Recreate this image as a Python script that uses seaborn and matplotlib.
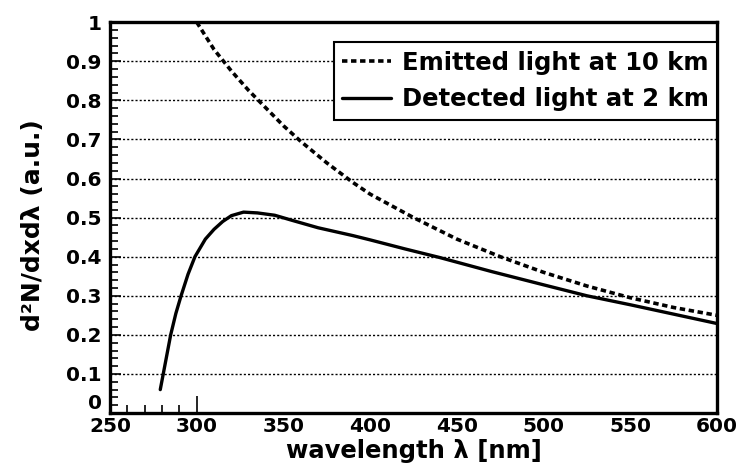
import pandas as pd
import numpy as np
import seaborn as sns
import matplotlib.pyplot as plt
from matplotlib.ticker import FixedLocator, FuncFormatter

# emitted light at 10 km (dashed)
emit_wl = [300, 310, 320, 330, 340, 350, 360, 375, 390, 400, 425, 450, 475, 500, 525, 550, 575, 600]
emit_val = [1.0, 0.93, 0.875, 0.825, 0.78, 0.735, 0.695, 0.64, 0.59, 0.56, 0.5, 0.445, 0.40, 0.36, 0.325, 0.295, 0.27, 0.25]

# detected light at 2 km (solid)
det_wl = [279, 282, 285, 288, 291, 295, 299, 305, 310, 315, 320, 327, 335, 345, 355, 370, 390, 400,
          420, 440, 470, 500, 525, 550, 575, 600]
det_val = [0.06, 0.13, 0.2, 0.255, 0.3, 0.355, 0.4, 0.445, 0.47, 0.49, 0.505, 0.514, 0.512, 0.506,
           0.493, 0.474, 0.454, 0.443, 0.42, 0.398, 0.362, 0.328, 0.30, 0.277, 0.253, 0.229]

x_ticks = [250, 300, 350, 400, 450, 500, 550, 600]
y_ticks = [0, 0.1, 0.2, 0.3, 0.4, 0.5, 0.6, 0.7, 0.8, 0.9, 1.0]


def draw():
    sns.set_style("ticks")
    plt.rcParams['font.family'] = ['DejaVu Sans']
    plt.rcParams['font.weight'] = 'bold'
    plt.rcParams['font.size'] = 15
    for k in ['text.color', 'axes.labelcolor', 'xtick.color', 'ytick.color', 'axes.edgecolor']:
        plt.rcParams[k] = 'black'

    emit = pd.DataFrame({"wl": emit_wl, "val": emit_val})
    det = pd.DataFrame({"wl": det_wl, "val": det_val})

    fig, ax = plt.subplots(figsize=(7.4, 4.71), dpi=100)
    fig.subplots_adjust(left=0.1486, right=0.969, bottom=0.123, top=0.953)

    # dotted horizontal grid
    for yv in y_ticks[1:-1]:
        ax.axhline(yv, color='black', lw=1.0, ls=(0, (1.5, 1.5)), zorder=1)

    sns.lineplot(data=emit, x="wl", y="val", ax=ax, color='black', lw=2.6,
                 label='Emitted light at 10 km', zorder=3)
    sns.lineplot(data=det, x="wl", y="val", ax=ax, color='black', lw=2.4,
                 label='Detected light at 2 km', zorder=3)
    ax.lines[-2].set_dashes([1.5, 1.0])
    ax.lines[-2].set_dash_capstyle('butt')

    ax.set_xlim(250, 600)
    ax.set_ylim(0, 1)

    ax.set_xticks(x_ticks)
    ax.xaxis.set_minor_locator(FixedLocator([260, 270, 280, 290]))
    ax.set_yticks(y_ticks)
    ax.yaxis.set_minor_locator(FixedLocator(np.arange(0.02, 1.0, 0.02)))
    ax.yaxis.set_major_formatter(FuncFormatter(lambda v, p: '%g' % round(v, 1)))

    ax.tick_params(axis='both', which='major', direction='in', labelsize=14.5, width=1.2)
    ax.tick_params(axis='x', which='major', length=12, pad=3)
    ax.tick_params(axis='y', which='major', length=8, pad=6)
    ax.tick_params(axis='both', which='minor', direction='in', length=6, width=1.2)
    for t in ax.xaxis.get_major_ticks():
        if t.get_loc() != 300:
            t.tick1line.set_visible(False)
    fig.canvas.draw()
    ax.get_yticklabels()[0].set_verticalalignment('bottom')

    for s in ax.spines.values():
        s.set_linewidth(2.4)
        s.set_zorder(5)

    ax.set_xlabel('wavelength λ [nm]', fontsize=17.5, fontweight='bold', labelpad=2)
    ax.set_ylabel('d²N/dxdλ (a.u.)', fontsize=18, fontweight='bold')
    ax.yaxis.set_label_coords(-0.107, 0.48)

    leg = ax.legend(loc='upper right', bbox_to_anchor=(1.0, 0.948), fancybox=False,
                    framealpha=1, edgecolor='black', fontsize=17.5, handlelength=2.0,
                    borderpad=0.35, labelspacing=0.5, handletextpad=0.45, borderaxespad=0)
    leg.get_frame().set_linewidth(1.5)
    leg.set_zorder(6)

    fig.savefig('out.png', dpi=100)


if __name__ == '__main__':
    draw()
